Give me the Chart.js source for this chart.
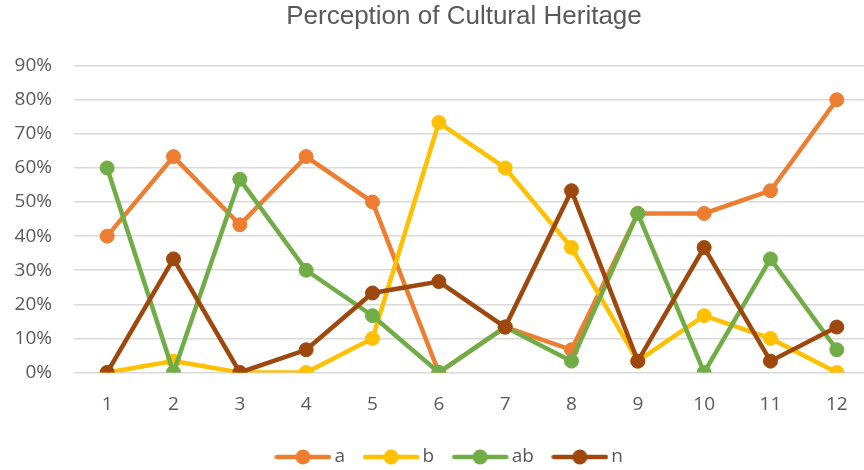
<!DOCTYPE html>
<html>
<head>
<meta charset="utf-8">
<title>Perception of Cultural Heritage</title>
<script src="https://cdn.jsdelivr.net/npm/chart.js@4/dist/chart.umd.min.js"></script>
<style>
  body { margin: 0; background: #fff; }
  #wrap { width: 864px; height: 470px; }
</style>
</head>
<body>
<div id="wrap"><canvas id="heritage-chart" width="864" height="470"></canvas></div>
<script>
// categories on the x axis
const categories = ['1', '2', '3', '4', '5', '6', '7', '8', '9', '10', '11', '12'];

// series values, in percent
const seriesA = [40, 63.33, 43.33, 63.33, 50, 0, 13.33, 6.67, 46.67, 46.67, 53.33, 80];
const seriesB = [0, 3.33, 0, 0, 10, 73.33, 60, 36.67, 3.33, 16.67, 10, 0];
const seriesAB = [60, 0, 56.67, 30, 16.67, 0, 13.33, 3.33, 46.67, 0, 33.33, 6.67];
const seriesN = [0, 33.33, 0, 6.67, 23.33, 26.67, 13.33, 53.33, 3.33, 36.67, 3.33, 13.33];

const seriesNames = ['a', 'b', 'ab', 'n'];
const yTickValues = [0, 10, 20, 30, 40, 50, 60, 70, 80, 90];

const colors = ['#ED7D31', '#FFC000', '#70AD47', '#9E480E'];
const textColor = '#595959';
const tickFont = { family: '"Open Sans", sans-serif', size: 19 };

// little "line with a dot" icon for the legend, like the spreadsheet one
function legendIcon(color) {
    const c = document.createElement('canvas');
    c.width = 57;
    c.height = 16;
    const g = c.getContext('2d');
    g.strokeStyle = color;
    g.lineWidth = 4.5;
    g.lineCap = 'round';
    g.beginPath();
    g.moveTo(2.5, 8);
    g.lineTo(54.5, 8);
    g.stroke();
    g.fillStyle = color;
    g.beginPath();
    g.arc(28.5, 8, 7.5, 0, Math.PI * 2);
    g.fill();
    return c;
}
const icons = colors.map(legendIcon);

const toPoints = values => values.map((v, i) => ({ x: i + 1, y: v }));

const makeSet = (label, values, color, order) => ({
    label,
    data: toPoints(values),
    borderColor: color,
    backgroundColor: color,
    pointBackgroundColor: color,
    pointBorderColor: color,
    borderWidth: 4.5,
    pointRadius: 7,
    pointHoverRadius: 7,
    pointBorderWidth: 1,
    tension: 0,
    order
});

// nudge title and legend to where the reference puts them
const shiftBoxes = {
    id: 'shiftBoxes',
    afterLayout(chart) {
        const t = chart.titleBlock;
        if (t) { t.left += 32; t.right += 32; }
        const l = chart.legend;
        if (l) { l.left += 20; l.right += 20; l.top += 6.5; l.bottom += 6.5; }
    }
};

new Chart(document.getElementById('heritage-chart'), {
    type: 'line',
    data: {
        datasets: [
            makeSet(seriesNames[0], seriesA, colors[0], 3),
            makeSet(seriesNames[1], seriesB, colors[1], 2),
            makeSet(seriesNames[2], seriesAB, colors[2], 1),
            makeSet(seriesNames[3], seriesN, colors[3], 0)
        ]
    },
    options: {
        responsive: false,
        animation: false,
        events: [],
        layout: { padding: 0, autoPadding: false },
        scales: {
            x: {
                type: 'linear',
                min: 0.5,
                max: 12.41,
                grid: { display: false, drawTicks: true, tickLength: 18 },
                border: { display: false },
                afterBuildTicks: scale => {
                    scale.ticks = categories.map((c, i) => ({ value: i + 1 }));
                },
                afterFit: scale => {
                    scale.height = 44.5;
                    scale.paddingLeft = 0;
                    scale.paddingRight = 0;
                },
                ticks: {
                    color: textColor,
                    font: tickFont,
                    padding: 3,
                    maxRotation: 0,
                    autoSkip: false,
                    callback: value => categories[value - 1]
                }
            },
            y: {
                min: 0,
                max: 90,
                grid: { color: '#d9d9d9', lineWidth: 1.5, drawTicks: false },
                border: { display: false },
                afterBuildTicks: scale => {
                    scale.ticks = yTickValues.map(v => ({ value: v }));
                },
                afterFit: scale => { scale.width = 74; },
                ticks: {
                    color: textColor,
                    font: tickFont,
                    padding: 22,
                    callback: value => value + '%'
                }
            }
        },
        plugins: {
            title: {
                display: true,
                text: 'Perception of Cultural Heritage',
                color: textColor,
                font: { family: '"Liberation Sans", Arial, sans-serif', size: 26, weight: 'normal' },
                padding: { top: 1.4, bottom: 33.1 }
            },
            legend: {
                position: 'bottom',
                labels: {
                    color: textColor,
                    font: tickFont,
                    usePointStyle: true,
                    pointStyleWidth: 44,
                    padding: 24,
                    generateLabels: chart => {
                        const items = Chart.defaults.plugins.legend.labels.generateLabels(chart);
                        items.forEach(item => { item.pointStyle = icons[item.datasetIndex]; });
                        items.sort((p, q) => p.datasetIndex - q.datasetIndex);
                        return items;
                    }
                }
            },
            tooltip: { enabled: false }
        }
    },
    plugins: [shiftBoxes]
});
</script>
</body>
</html>
